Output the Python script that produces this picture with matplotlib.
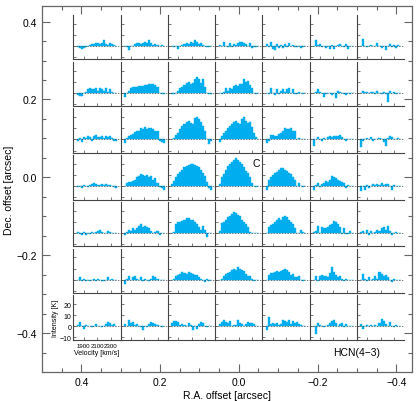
import matplotlib
matplotlib.use('Agg')
import matplotlib.pyplot as plt
import numpy as np

plt.rcParams['font.family'] = ['Liberation Sans', 'DejaVu Sans']

# grid positions (arcsec)
ra_centers = [0.36, 0.24, 0.12, 0.0, -0.12, -0.24, -0.36]
dec_centers = [0.36, 0.24, 0.12, 0.0, -0.12, -0.24, -0.36]

# velocity channels (km/s)
velocity = np.arange(1815, 2400, 30)

# spectra (K), one list per row from top (dec 0.36) to bottom, columns from RA 0.36 to -0.36
row_p036 = [
    [-1, -2, -3, -2, -1, 0, 1, 2, 2, 3, 3, 2, 3, 5, 2, 1, 3, 2, 1, 0],
    [0, -1, -4, 0, 0, 2, 3, 3, 2, 3, 4, 3, 5, 3, 1, 2, 1, 0, 1, 0],
    [0, -1, 0, -3, 0, 1, 2, 3, 2, 4, 3, 5, 4, 2, 3, 1, 0, -1, -1, 0],
    [1, 0, 4, 0, -1, 3, -1, 2, 1, 3, 4, 4, 3, 2, 0, 3, -2, -1, -1, 0],
    [2, -1, 4, -3, -4, 2, -2, 1, -2, 2, -1, 3, 0, 1, -1, -1, 0, -2, -1, 0],
    [0, 5, 1, 2, -1, 0, -2, 0, -3, 1, -3, 0, 1, 2, 0, -1, 2, -3, 0, 0],
    [0, 6, 0, -1, 0, 1, 0, 0, 3, 0, -2, 0, -4, 0, 2, -1, 1, -2, 1, 0],
]
row_p024 = [
    [-2, -3, -3, 0, 1, 3, 4, 3, 3, 4, 2, 4, 3, 2, 4, 1, 3, 1, 0, 0],
    [-4, 0, 2, 4, 5, 5, 5, 6, 6, 6, 7, 7, 8, 8, 8, 7, 5, 0, -1, -1],
    [-1, -1, 0, 2, 4, 5, 7, 9, 10, 8, 9, 12, 14, 12, 9, 12, 5, 0, -1, -1],
    [0, -1, 1, 4, 2, 4, 3, 6, 7, 6, 8, 8, 12, 10, 11, 7, 4, 0, -1, 0],
    [0, -1, 4, 0, -2, 3, -1, 2, 3, 1, 3, 4, 0, 3, -1, -1, 1, 0, -1, 0],
    [0, 1, 3, 1, 0, -4, -1, 0, 0, -2, 0, -5, 2, 1, 0, -1, -2, 0, -1, 0],
    [0, 2, 1, 1, 0, 1, 1, -1, 2, 0, -1, 1, -1, -8, 2, 0, 1, -1, 0, 0],
]
row_p012 = [
    [-1, 1, -2, 2, 1, 3, 2, -1, 3, 4, 2, 2, 3, 1, 3, 2, 3, 1, -1, -1],
    [-3, 1, 3, 4, 5, 7, 8, 8, 10, 9, 11, 9, 10, 10, 9, 8, 8, -1, -2, -3],
    [0, 1, 4, 6, 9, 12, 14, 16, 17, 15, 14, 19, 20, 18, 16, 12, 8, 0, -4, -1],
    [-2, 3, 6, 8, 10, 12, 14, 16, 17, 15, 14, 18, 20, 17, 15, 16, 11, 6, 2, 0],
    [-3, -1, 4, 4, 3, 3, 5, 6, 8, 10, 9, 9, 10, 8, 8, 0, 1, 0, 0, 0],
    [-6, 0, 2, 0, -1, 1, 0, 2, 3, 2, 3, 3, 3, 4, 2, 0, -1, 0, 0, 0],
    [-7, -1, 0, 1, 0, 2, -1, 0, 0, 1, 0, -2, -6, 1, 3, 2, 0, 0, 1, 0],
]
row_p000 = [
    [-1, 0, -2, 1, 0, -1, 1, 2, 3, 2, 1, 1, 2, 1, 2, 1, 1, 0, -1, -2],
    [0, 3, 4, 4, 5, 6, 8, 9, 11, 10, 9, 10, 8, 9, 6, 7, 3, -1, -2, -3],
    [2, 5, 8, 11, 13, 15, 17, 18, 19, 20, 20, 19, 18, 17, 15, 12, 9, 4, -2, -3],
    [2, 8, 11, 15, 18, 20, 22, 24, 25, 24, 22, 20, 17, 14, 12, 8, 3, 0, -1, 0],
    [-3, 6, 8, 10, 12, 13, 15, 16, 16, 15, 14, 12, 11, 8, 6, 0, 3, 0, -1, 0],
    [-3, 1, 3, -1, 2, 3, 5, 4, 6, 9, 8, 7, 6, 5, 4, 3, -2, 1, 0, 0],
    [-4, 0, -3, 1, -2, 0, 2, 1, 2, 1, 3, 1, 2, 2, 0, -3, 1, 0, 0, 0],
]
row_m012 = [
    [1, -1, -2, 1, -2, 0, -1, 1, 0, 1, 2, 3, 1, 0, 0, 2, 1, 0, 0, 0],
    [-2, 1, 3, 2, 4, 3, 4, 6, 8, 5, 6, 5, 4, 2, 0, 1, 2, -2, 0, 0],
    [0, 1, 8, 10, 10, 11, 12, 13, 13, 12, 12, 10, 8, 5, 3, 6, 3, -4, 0, 0],
    [2, 9, 10, 12, 14, 15, 17, 19, 18, 16, 15, 12, 10, 8, 5, 1, 0, 0, 0, 0],
    [0, 5, 7, 8, 10, 12, 13, 12, 14, 15, 14, 12, 10, 8, 4, 0, 0, 3, 1, 0],
    [1, 2, 6, 0, 5, 4, 4, 5, 7, 8, 11, 10, 8, 5, -1, 4, -1, -1, 2, 0],
    [1, 2, 0, 3, -2, 2, 0, 1, 3, 2, 4, 5, 3, 6, 2, -2, 0, 1, 0, 0],
]
row_m024 = [
    [0, 2, -1, 1, -1, 0, -1, 0, 1, -1, 1, 0, -1, -1, 0, 2, 0, 1, 0, 0],
    [-4, 1, 3, 0, 2, 3, 1, 0, 2, -1, 1, 0, -1, 1, 3, 2, 1, 0, 0, 0],
    [0, 1, 3, 4, 5, 7, 6, 5, 7, 6, 5, 4, 4, 2, 1, 0, -2, 1, -1, 0],
    [0, 1, 3, 5, 6, 7, 9, 10, 9, 11, 10, 9, 8, 5, 3, 3, 1, -1, 0, 0],
    [0, 4, 6, 6, 7, 8, 7, 8, 9, 10, 9, 7, 4, 5, 2, 2, 3, 0, -1, 0],
    [0, 3, -1, 3, 4, 3, 3, 2, 6, 11, 7, 4, 2, 3, 1, -1, 1, 0, 0, 0],
    [0, 5, 1, -1, 2, 0, 1, 3, 1, 7, 5, 3, 4, 2, 0, -2, 1, 0, 0, 0],
]
row_m036 = [
    [1, 4, 0, -2, 1, 0, 0, -1, 0, 2, 0, 0, -1, 0, 2, 4, 3, 1, 2, 0],
    [2, 0, 6, 3, 4, 1, 2, 0, -1, -3, 0, -1, 2, 4, 3, 2, 1, 0, -1, 0],
    [3, 5, 5, 4, 1, 2, 1, 0, 3, 1, -3, 0, -2, 2, 4, 3, 0, -1, 0, 0],
    [2, 4, 6, 4, 3, 5, 0, 1, 1, 6, 3, 2, 0, 2, 4, 3, 3, 2, 0, 0],
    [-3, 8, 2, 3, 2, 3, 1, 2, 6, 5, 4, 6, 2, 5, 3, 4, 2, 1, 0, 0],
    [0, -7, 3, 1, 0, -1, 0, 1, 3, 5, 6, 3, 0, 2, 3, -1, 2, 0, 0, 0],
    [2, -2, 0, 1, 0, 1, 0, 1, 0, 3, 7, 5, 2, 0, 4, 0, -1, 1, 0, 0],
]
spectra = [row_p036, row_p024, row_p012, row_p000, row_m012, row_m024, row_m036]

line_color = '#00AEEF'
axis_gray = '#666666'
panel_gray = '#444444'

fig = plt.figure(figsize=(4.2, 4.02), dpi=100)
L, B = 42 / 420, 1 - 373 / 402
W, H = 370 / 420, 366 / 402
ax = fig.add_axes([L, B, W, H])
xlim = (0.5, -0.44)
ylim = (-0.5, 0.44)
ax.set_xlim(*xlim)
ax.set_ylim(*ylim)
ax.set_xticks([0.4, 0.2, 0.0, -0.2, -0.4])
ax.set_yticks([-0.4, -0.2, 0.0, 0.2, 0.4])
ax.set_xticklabels(['0.4', '0.2', '0.0', '\u22120.2', '\u22120.4'])
ax.set_yticklabels(['\u22120.4', '\u22120.2', '0.0', '0.2', '0.4'])
ax.set_xticks(np.arange(-0.4, 0.46, 0.05), minor=True)
ax.set_yticks(np.arange(-0.45, 0.44, 0.05), minor=True)
ax.tick_params(which='both', direction='in', top=True, right=True,
               color=axis_gray, width=0.8, labelsize=7.5)
ax.tick_params(which='major', length=6)
ax.tick_params(which='minor', length=3)
for s in ax.spines.values():
    s.set_color(axis_gray)
    s.set_linewidth(0.9)
ax.set_xlabel('R.A. offset [arcsec]', fontsize=7.5, labelpad=2)
ax.set_ylabel('Dec. offset [arcsec]', fontsize=7.5, labelpad=2)

def to_fig(ra, dec):
    fx = (xlim[0] - ra) / (xlim[0] - xlim[1])
    fy = (dec - ylim[0]) / (ylim[1] - ylim[0])
    return L + fx * W, B + fy * H

for j, dec in enumerate(dec_centers):
    for i, ra in enumerate(ra_centers):
        x0, y0 = to_fig(ra + 0.06, dec - 0.057)
        x1, y1 = to_fig(ra - 0.06, dec + 0.057)
        p = fig.add_axes([x0, y0, x1 - x0, y1 - y0])
        p.patch.set_alpha(0)
        p.bar(velocity, spectra[j][i], width=30, color=line_color,
              edgecolor=line_color, linewidth=0.3)
        p.axhline(0, color=panel_gray, lw=0.5, ls=(0, (2, 2)))
        p.set_xlim(1750, 2450)
        p.set_ylim(-12, 28)
        p.spines['top'].set_visible(False)
        p.spines['right'].set_visible(False)
        for s in ('left', 'bottom'):
            p.spines[s].set_color(panel_gray)
            p.spines[s].set_linewidth(0.8)
        p.set_xticks([1900, 2100, 2300])
        p.set_yticks([-10, 0, 10, 20])
        p.tick_params(direction='in', length=2, width=0.5, color=panel_gray,
                      labelsize=5, pad=1.5)
        if i == 0 and j == 6:
            p.set_xticklabels(['1900', '2100', '2300'])
            p.tick_params(axis='x', labelsize=4.4, pad=2.5)
            p.set_xlabel('Velocity [km/s]', fontsize=5, labelpad=0.3)
            p.set_ylabel('Intensity [K]', fontsize=5, labelpad=0.5)
        else:
            p.set_xticklabels([])
            p.set_yticklabels([])
        if i == 3 and j == 3:
            p.text(0.8, 0.76, 'C', transform=p.transAxes, fontsize=7.5)

ax.text(-0.3, -0.448, 'HCN(4\u22123)', ha='center', va='center', fontsize=7.5)

fig.savefig('out.png', dpi=100)
